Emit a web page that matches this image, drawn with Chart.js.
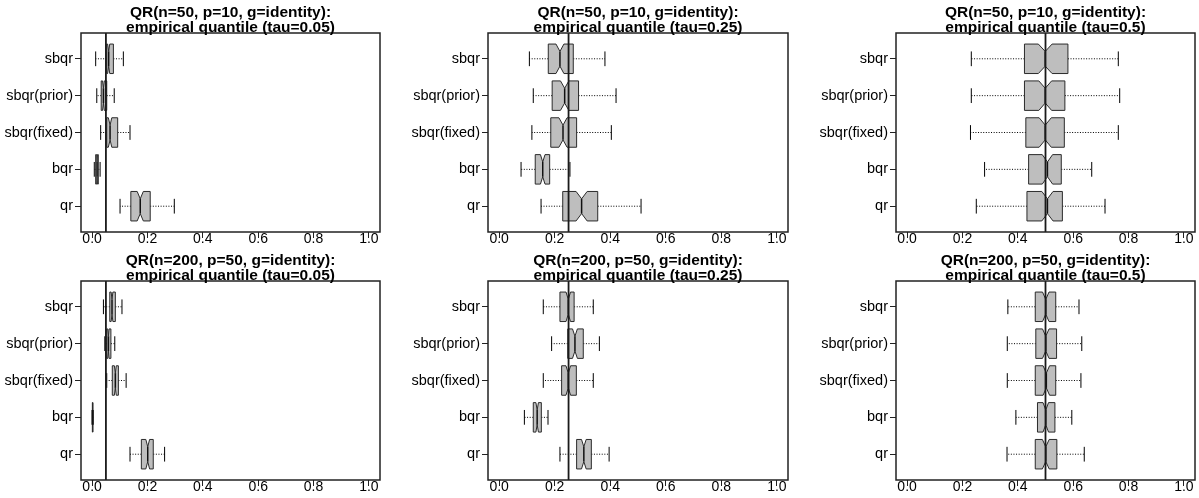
<!DOCTYPE html>
<html>
<head>
<meta charset="utf-8">
<script src="https://cdn.jsdelivr.net/npm/chart.js@4.4.0/dist/chart.umd.min.js"></script>
<style>
  html, body { margin: 0; padding: 0; background: #ffffff; }
  #wrap { position: relative; width: 1199px; height: 498px; overflow: hidden; }
  #wrap canvas { position: absolute; left: 0; top: 0; }
</style>
</head>
<body>
<div id="wrap"></div>
<script>
// ---------------- data ----------------
// categories listed bottom-to-top (as R draws a horizontal boxplot)
const categories = ['qr', 'bqr', 'sbqr(fixed)', 'sbqr(prior)', 'sbqr'];
const xTicks = [0, 0.2, 0.4, 0.6, 0.8, 1.0];
const xTickLabels = ['0.0', '0.2', '0.4', '0.6', '0.8', '1.0'];
const titleLine1 = [
  'QR(n=50, p=10, g=identity):', 'QR(n=50, p=10, g=identity):', 'QR(n=50, p=10, g=identity):',
  'QR(n=200, p=50, g=identity):', 'QR(n=200, p=50, g=identity):', 'QR(n=200, p=50, g=identity):'
];
const titleLine2 = [
  'empirical quantile (tau=0.05)', 'empirical quantile (tau=0.25)', 'empirical quantile (tau=0.5)',
  'empirical quantile (tau=0.05)', 'empirical quantile (tau=0.25)', 'empirical quantile (tau=0.5)'
];
const taus = [0.05, 0.25, 0.5, 0.05, 0.25, 0.5];
const nReplications = 100;

// five-number summaries [lower whisker, Q1, median, Q3, upper whisker], order = categories
const statsN50Tau005 = [
  [0.101, 0.140, 0.174, 0.210, 0.297],
  [0.008, 0.013, 0.018, 0.0225, 0.029],
  [0.031, 0.053, 0.065, 0.0925, 0.137],
  [0.017, 0.033, 0.041, 0.053, 0.080],
  [0.013, 0.053, 0.060, 0.077, 0.113]
];
const statsN50Tau025 = [
  [0.151, 0.229, 0.297, 0.355, 0.511],
  [0.079, 0.130, 0.157, 0.182, 0.255],
  [0.118, 0.186, 0.230, 0.279, 0.404],
  [0.123, 0.191, 0.236, 0.286, 0.421],
  [0.109, 0.177, 0.219, 0.267, 0.381]
];
const statsN50Tau05 = [
  [0.250, 0.433, 0.507, 0.561, 0.715],
  [0.280, 0.439, 0.507, 0.557, 0.667],
  [0.229, 0.429, 0.499, 0.568, 0.763],
  [0.232, 0.424, 0.499, 0.570, 0.768],
  [0.232, 0.424, 0.499, 0.581, 0.763]
];
const statsN200Tau005 = [
  [0.137, 0.178, 0.201, 0.221, 0.262],
  [0.000, 0.001, 0.002, 0.003, 0.004],
  [0.053, 0.073, 0.084, 0.095, 0.123],
  [0.046, 0.053, 0.059, 0.068, 0.082],
  [0.041, 0.064, 0.072, 0.084, 0.108]
];
const statsN200Tau025 = [
  [0.219, 0.279, 0.305, 0.332, 0.396],
  [0.091, 0.123, 0.137, 0.152, 0.176],
  [0.159, 0.225, 0.249, 0.278, 0.339],
  [0.189, 0.247, 0.273, 0.303, 0.361],
  [0.159, 0.219, 0.249, 0.270, 0.339]
];
const statsN200Tau05 = [
  [0.361, 0.463, 0.501, 0.541, 0.640],
  [0.393, 0.471, 0.501, 0.534, 0.595],
  [0.362, 0.463, 0.503, 0.537, 0.628],
  [0.362, 0.465, 0.501, 0.540, 0.631],
  [0.364, 0.463, 0.501, 0.537, 0.621]
];
const panelStats = [statsN50Tau005, statsN50Tau025, statsN50Tau05,
                    statsN200Tau005, statsN200Tau025, statsN200Tau05];

// ---------------- layout (plot frames in page pixels) ----------------
const W = 1199, H = 498;
const frameCols = [[81, 380], [488, 788], [896, 1195]];
const frameRows = [[33, 232], [281, 480]];
const Y_AXIS_W = 78, X_AXIS_H = 18;
const FONT = '"Liberation Sans", Arial, Helvetica, sans-serif';

// ---------------- plugins ----------------
const boxPlugin = {
  id: 'notchedBoxes',
  beforeDatasetsDraw(chart) {
    const ctx = chart.ctx;
    const xs = chart.scales.x, ys = chart.scales.y;
    chart.data.datasets.forEach(ds => {
      if (!ds.boxStats) return;
      ds.boxStats.forEach((s, i) => {
        const yc = i + 1;
        const [lo, q1, md, q3, hi] = s;
        const w = 0.4, st = 0.2;
        const conf = 1.58 * (q3 - q1) / Math.sqrt(nReplications);
        const cl = md - conf, ch = md + conf;
        const X = v => xs.getPixelForValue(v);
        const Y = v => ys.getPixelForValue(v);
        ctx.save();
        // whiskers (dotted)
        ctx.strokeStyle = '#000';
        ctx.lineWidth = 1;
        ctx.setLineDash([1, 1.6]);
        ctx.beginPath();
        ctx.moveTo(X(q1), Y(yc)); ctx.lineTo(X(lo), Y(yc));
        ctx.moveTo(X(q3), Y(yc)); ctx.lineTo(X(hi), Y(yc));
        ctx.stroke();
        ctx.setLineDash([]);
        // staples
        ctx.beginPath();
        ctx.moveTo(X(lo), Y(yc - st)); ctx.lineTo(X(lo), Y(yc + st));
        ctx.moveTo(X(hi), Y(yc - st)); ctx.lineTo(X(hi), Y(yc + st));
        ctx.stroke();
        // notched box
        const pts = [[q1, -w], [q1, w], [cl, w], [md, w / 2], [ch, w], [q3, w],
                     [q3, -w], [ch, -w], [md, -w / 2], [cl, -w]];
        ctx.beginPath();
        pts.forEach((p, k) => {
          const px = X(p[0]), py = Y(yc + p[1]);
          if (k === 0) ctx.moveTo(px, py); else ctx.lineTo(px, py);
        });
        ctx.closePath();
        ctx.fillStyle = '#BEBEBE';
        ctx.fill();
        ctx.strokeStyle = '#2b2b2b';
        ctx.lineWidth = 1;
        ctx.stroke();
        // median
        ctx.beginPath();
        ctx.moveTo(X(md), Y(yc - w / 2)); ctx.lineTo(X(md), Y(yc + w / 2));
        ctx.lineWidth = 1.5;
        ctx.strokeStyle = '#111';
        ctx.stroke();
        ctx.restore();
      });
    });
  }
};

const framePlugin = {
  id: 'frameAndTitle',
  afterDraw(chart, args, opts) {
    const ctx = chart.ctx, a = chart.chartArea;
    ctx.save();
    ctx.strokeStyle = '#222';
    ctx.lineWidth = 1.5;
    ctx.strokeRect(a.left, a.top, a.right - a.left, a.bottom - a.top);
    ctx.fillStyle = '#000';
    ctx.font = 'bold 15.5px ' + FONT;
    ctx.textAlign = 'center';
    ctx.textBaseline = 'alphabetic';
    const cx = (a.left + a.right) / 2;
    ctx.fillText(opts.line1, cx, a.top - 16.3);
    ctx.fillText(opts.line2, cx, a.top - 1.3);
    ctx.restore();
  }
};

// ---------------- build charts ----------------
const wrap = document.getElementById('wrap');
for (let p = 0; p < 6; p++) {
  const col = p % 3, row = Math.floor(p / 3);
  const [fl, fr] = frameCols[col];
  const [ft, fb] = frameRows[row];
  const cv = document.createElement('canvas');
  cv.width = W; cv.height = H;
  cv.style.width = W + 'px'; cv.style.height = H + 'px';
  wrap.appendChild(cv);
  const tau = taus[p];
  new Chart(cv.getContext('2d'), {
    type: 'scatter',
    data: {
      datasets: [
        {
          label: 'boxes',
          data: panelStats[p].map((s, i) => ({ x: s[2], y: i + 1 })),
          boxStats: panelStats[p],
          pointRadius: 0,
          showLine: false
        },
        {
          label: 'tau',
          type: 'line',
          data: [{ x: tau, y: 0.3 }, { x: tau, y: 5.7 }],
          borderColor: '#1a1a1a',
          borderWidth: 1.8,
          pointRadius: 0,
          fill: false
        }
      ]
    },
    options: {
      responsive: false,
      animation: false,
      devicePixelRatio: 1,
      events: [],
      layout: {
        padding: { left: fl - Y_AXIS_W, right: W - fr, top: ft, bottom: H - fb - X_AXIS_H }
      },
      plugins: {
        legend: { display: false },
        tooltip: { enabled: false },
        title: { display: false },
        frameAndTitle: { line1: titleLine1[p], line2: titleLine2[p] }
      },
      scales: {
        x: {
          type: 'linear',
          min: -0.04, max: 1.04,
          afterBuildTicks: s => { s.ticks = xTicks.map(v => ({ value: v })); },
          afterFit: s => { s.height = X_AXIS_H; },
          grid: { drawOnChartArea: false, drawTicks: true, tickLength: 6, color: '#222', lineWidth: 1 },
          border: { display: false },
          ticks: {
            padding: -7,
            color: '#000',
            maxRotation: 0,
            autoSkip: false,
            font: { family: FONT, size: 14 },
            callback: (v) => { const k = xTicks.indexOf(v); return k >= 0 ? xTickLabels[k] : ''; }
          }
        },
        y: {
          type: 'linear',
          min: 0.3, max: 5.7,
          afterBuildTicks: s => { s.ticks = categories.map((c, i) => ({ value: i + 1 })); },
          afterFit: s => { s.width = Y_AXIS_W; },
          grid: { drawOnChartArea: false, drawTicks: true, tickLength: 6, color: '#222', lineWidth: 1 },
          border: { display: false },
          ticks: {
            padding: 2,
            color: '#000',
            autoSkip: false,
            font: { family: FONT, size: 14.5 },
            callback: (v) => categories[Math.round(v) - 1] || ''
          }
        }
      }
    },
    plugins: [boxPlugin, framePlugin]
  });
}
</script>
</body>
</html>
